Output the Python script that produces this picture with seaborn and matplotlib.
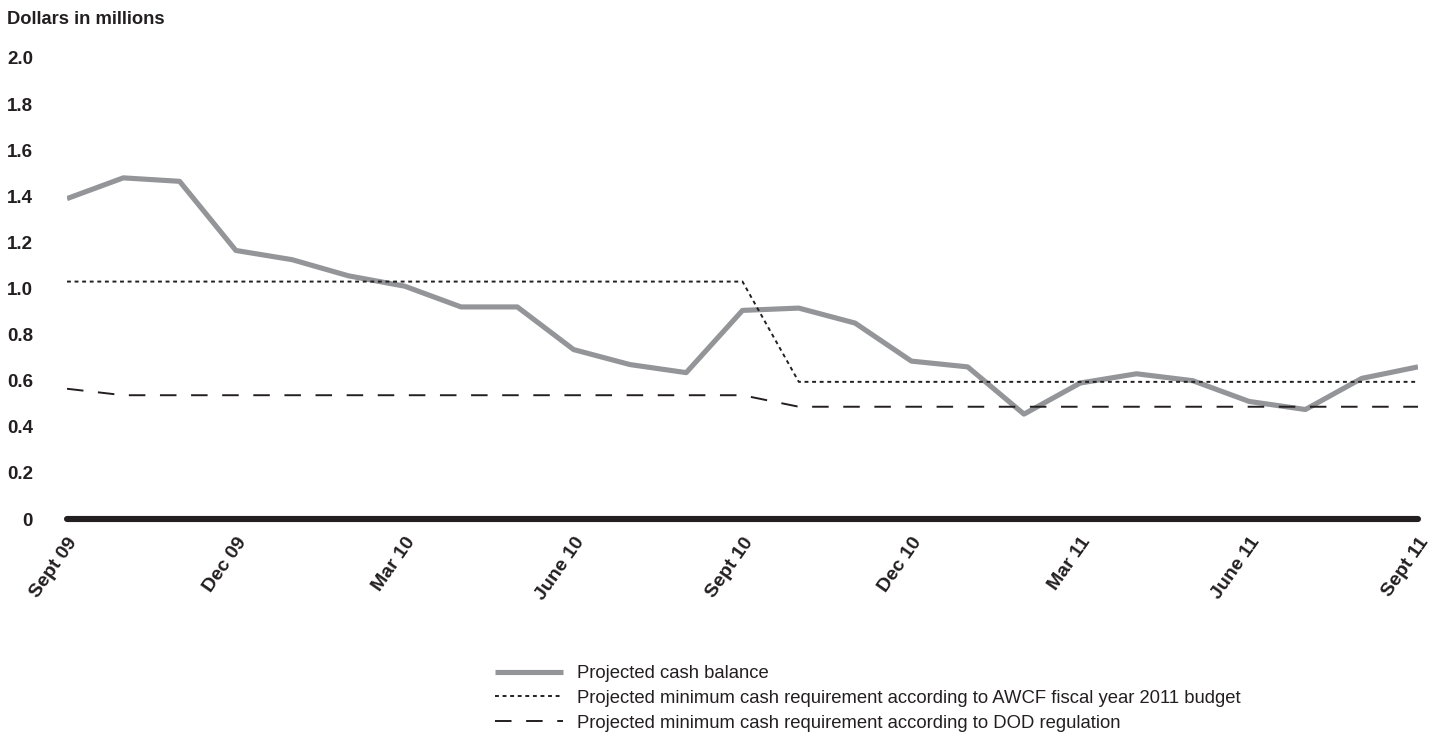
import pandas as pd
import seaborn as sns
import matplotlib.pyplot as plt

# monthly data, Sept 09 .. Sept 11
months = ['Sept 09', 'Oct 09', 'Nov 09', 'Dec 09', 'Jan 10', 'Feb 10', 'Mar 10',
          'Apr 10', 'May 10', 'June 10', 'July 10', 'Aug 10', 'Sept 10', 'Oct 10',
          'Nov 10', 'Dec 10', 'Jan 11', 'Feb 11', 'Mar 11', 'Apr 11', 'May 11',
          'June 11', 'July 11', 'Aug 11', 'Sept 11']
cash_balance = [1.39, 1.48, 1.465, 1.165, 1.125, 1.055, 1.01, 0.92, 0.92, 0.735,
                0.67, 0.635, 0.905, 0.915, 0.85, 0.685, 0.66, 0.455, 0.59, 0.63,
                0.60, 0.51, 0.475, 0.61, 0.66]
awcf_min = [1.03] * 13 + [0.595] * 12
dod_min = [0.565] + [0.537] * 12 + [0.487] * 12

tick_labels = ['Sept 09', 'Dec 09', 'Mar 10', 'June 10', 'Sept 10',
               'Dec 10', 'Mar 11', 'June 11', 'Sept 11']

lbl_cash = 'Projected cash balance'
lbl_awcf = 'Projected minimum cash requirement according to AWCF fiscal year 2011 budget'
lbl_dod = 'Projected minimum cash requirement according to DOD regulation'

df = pd.DataFrame({'month': range(len(months)), 'cash': cash_balance,
                   'awcf': awcf_min, 'dod': dod_min})

sns.set_style('white')
plt.rcParams['font.family'] = ['Liberation Sans', 'DejaVu Sans']

ink = '#231f20'
fig = plt.figure(figsize=(14.39, 7.42), dpi=100)
ax = fig.add_axes([67 / 1439, 1 - 519 / 742, (1418 - 67) / 1439, (519 - 58) / 742])

sns.lineplot(data=df, x='month', y='cash', ax=ax, color='#939598', lw=3.7,
             label=lbl_cash, solid_capstyle='butt')
sns.lineplot(data=df, x='month', y='awcf', ax=ax, color=ink, lw=1.4,
             label=lbl_awcf)
sns.lineplot(data=df, x='month', y='dod', ax=ax, color=ink, lw=1.4,
             label=lbl_dod)
ax.lines[1].set_dashes([2.0, 1.9])
ax.lines[2].set_dashes([8.5, 7.5])

ax.axhline(0, color=ink, lw=4.4, clip_on=False, zorder=5)

ax.set_xlim(0, len(months) - 1)
ax.set_ylim(0, 2.0)
ax.set_yticks([0, 0.2, 0.4, 0.6, 0.8, 1.0, 1.2, 1.4, 1.6, 1.8, 2.0])
ax.set_yticklabels(['0', '0.2', '0.4', '0.6', '0.8', '1.0', '1.2', '1.4', '1.6', '1.8', '2.0'],
                   fontweight='bold', fontsize=13.5, color=ink)
ax.set_xticks([months.index(m) for m in tick_labels])
ax.set_xticklabels(tick_labels, rotation=55, ha='right', rotation_mode='anchor',
                   fontweight='bold', fontsize=14, color=ink)
ax.tick_params(axis='y', length=0, pad=24.5)
ax.tick_params(axis='x', length=0, pad=11)
ax.set_xlabel('')
ax.set_ylabel('')
sns.despine(ax=ax, left=True, bottom=True)

fig.text(7 / 1439, 1 - 19 / 742, 'Dollars in millions', fontweight='bold',
         fontsize=13.2, color=ink, va='center')

handles, labels = ax.get_legend_handles_labels()
ax.get_legend().remove()
fig.legend(handles, labels, loc='upper left', bbox_to_anchor=(495 / 1439, 1 - 665 / 742),
           frameon=False, fontsize=13.3, handlelength=3.7, handletextpad=0.75,
           labelspacing=0.42, borderpad=0, borderaxespad=0, labelcolor=ink)

plt.savefig('out.png', dpi=100)
